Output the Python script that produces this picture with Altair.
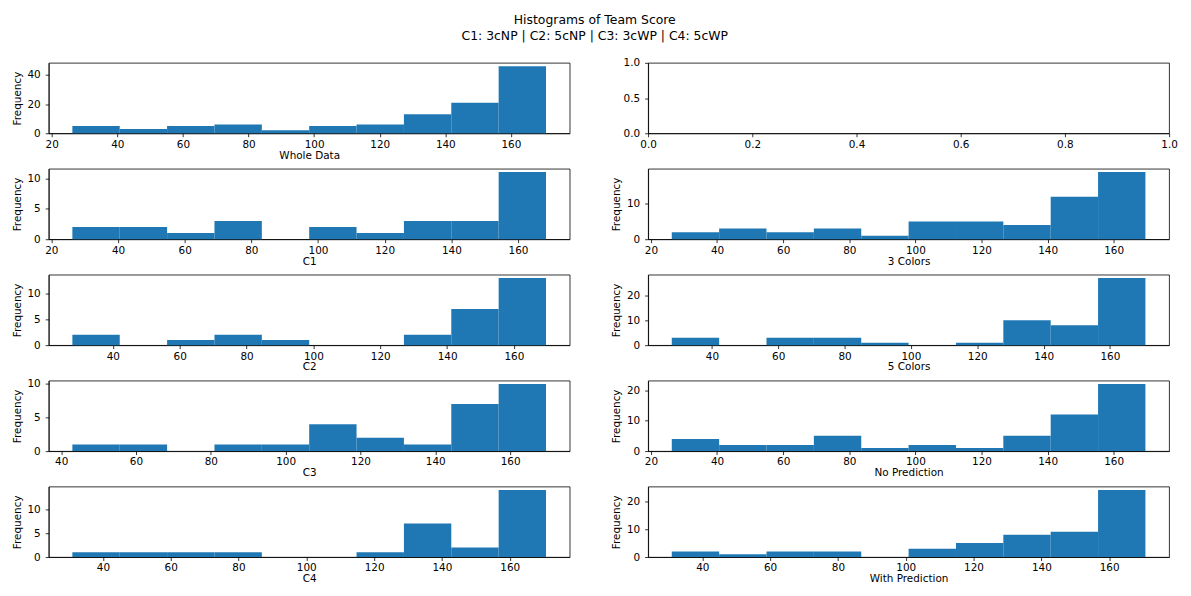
import altair as alt
import numpy as np
import pandas as pd

# ---------------- data ----------------
title_lines = ["Histograms of Team Score", "C1: 3cNP | C2: 5cNP | C3: 3cWP | C4: 5cWP"]

panel_names = ["Whole Data", "C1", "3 Colors", "C2", "5 Colors",
               "C3", "No Prediction", "C4", "With Prediction"]
score_min = [26.3, 26.3, 26.3, 27.9, 27.9, 43.0, 26.3, 31.0, 31.0]
score_max = [170.7, 168.4, 169.6, 169.6, 170.7, 169.6, 169.6, 170.7, 170.7]

counts_whole = [5, 3, 5, 6, 2, 5, 6, 13, 21, 46]
counts_c1 = [2, 2, 1, 3, 0, 2, 1, 3, 3, 11]
counts_3colors = [2, 3, 2, 3, 1, 5, 5, 4, 12, 19]
counts_c2 = [2, 0, 1, 2, 1, 0, 0, 2, 7, 13]
counts_5colors = [3, 0, 3, 3, 1, 0, 1, 10, 8, 27]
counts_c3 = [1, 1, 0, 1, 1, 4, 2, 1, 7, 10]
counts_nopred = [4, 2, 2, 5, 1, 2, 1, 5, 12, 22]
counts_c4 = [1, 1, 1, 1, 0, 0, 1, 7, 2, 14]
counts_withpred = [2, 1, 2, 2, 0, 3, 5, 8, 9, 24]

all_counts = [counts_whole, counts_c1, counts_3colors, counts_c2, counts_5colors,
              counts_c3, counts_nopred, counts_c4, counts_withpred]
y_tick_values = [[0, 20, 40], [0, 5, 10], [0, 10], [0, 5, 10], [0, 10, 20],
                 [0, 5, 10], [0, 10, 20], [0, 5, 10], [0, 10, 20]]
x_tick_candidates = list(range(0, 201, 20))
empty_x_ticks = [0.0, 0.2, 0.4, 0.6, 0.8, 1.0]
empty_y_ticks = [0.0, 0.5, 1.0]

# ---------------- layout / style ----------------
W, H = 525, 71
BAR = "#1f77b4"
FONT = "DejaVu Sans"


def hist_panel(label, counts, lo, hi, yticks):
    edges = np.linspace(lo, hi, len(counts) + 1)
    df = pd.DataFrame({"start": edges[:-1], "end": edges[1:], "count": counts})
    pad = 0.05 * (hi - lo)
    xdom = [lo - pad, hi + pad]
    xticks = [v for v in x_tick_candidates if xdom[0] <= v <= xdom[1]]
    ymax = max(counts) * 1.05
    return alt.Chart(df).mark_rect(color=BAR).encode(
        x=alt.X("start:Q",
                scale=alt.Scale(domain=xdom, nice=False, zero=False),
                axis=alt.Axis(values=xticks, format="d", title=label)),
        x2="end:Q",
        y=alt.Y("count:Q",
                scale=alt.Scale(domain=[0, ymax], nice=False),
                axis=alt.Axis(values=yticks, format="d", title="Frequency")),
        y2=alt.datum(0),
    ).properties(width=W, height=H)


def empty_panel():
    df = pd.DataFrame({"x": [0.0], "y": [0.0]})
    return alt.Chart(df).mark_point(opacity=0).encode(
        x=alt.X("x:Q", scale=alt.Scale(domain=[0, 1], nice=False),
                axis=alt.Axis(values=empty_x_ticks, format=".1f", title=None)),
        y=alt.Y("y:Q", scale=alt.Scale(domain=[0, 1], nice=False),
                axis=alt.Axis(values=empty_y_ticks, format=".1f", title=None)),
    ).properties(width=W, height=H)


hists = [hist_panel(n, c, lo, hi, yt) for n, c, lo, hi, yt in
         zip(panel_names, all_counts, score_min, score_max, y_tick_values)]

panels = [hists[0], empty_panel()] + hists[1:]

chart = alt.concat(
    *panels, columns=2, spacing={"row": 35.75, "column": 79}, bounds="flush"
).properties(
    title=alt.TitleParams(text=title_lines, anchor="middle"),
    padding={"left": 3, "top": 4, "right": 5, "bottom": 5},
).configure_view(
    stroke="black", strokeWidth=0.8
).configure_axis(
    grid=False, domainColor="black", domainWidth=0.8,
    tickColor="black", tickWidth=0.8, tickSize=3.5,
    labelFont=FONT, labelFontSize=10.5, labelColor="black",
    labelFlush=False, labelOverlap=False,
    titleFont=FONT, titleFontSize=10.5, titleFontWeight="normal", titleColor="black",
    zindex=1,
).configure_axisX(
    labelPadding=2.5, titlePadding=0.5,
).configure_axisY(
    labelPadding=5, titlePadding=5,
).configure_title(
    font=FONT, fontSize=12.5, fontWeight="normal", color="black",
    lineHeight=16, offset=15,
)

chart.save("out.html", embed_options={"renderer": "svg", "actions": False})
